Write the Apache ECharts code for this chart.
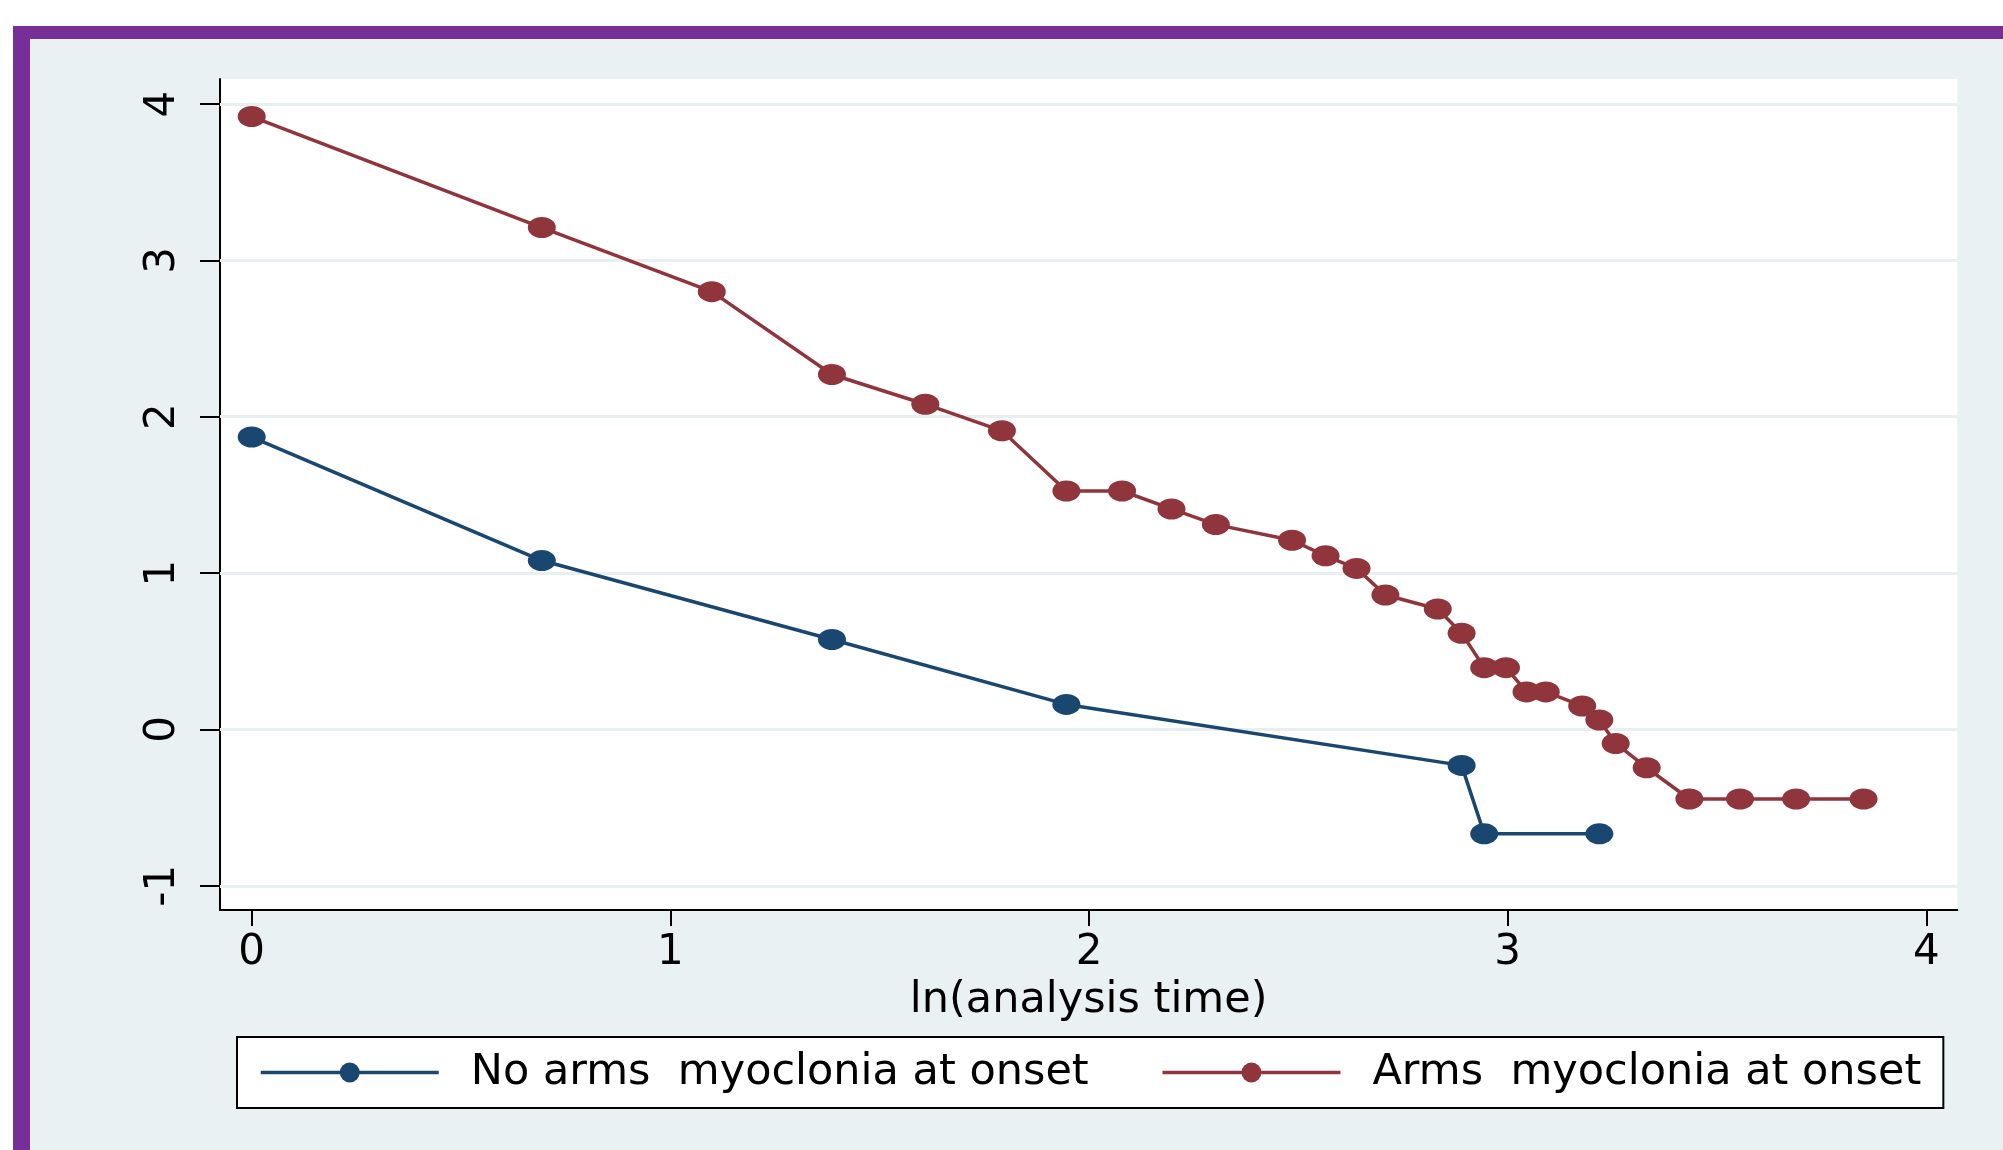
<!DOCTYPE html>
<html>
<head>
<meta charset="utf-8">
<script src="https://cdn.jsdelivr.net/npm/echarts@6/dist/echarts.min.js"></script>
<style>
  html, body { margin: 0; padding: 0; background: #ffffff; width: 2003px; height: 1150px; overflow: hidden; }
  #frame { position: absolute; left: 13px; top: 26px; width: 1990px; height: 1124px; background: #762F97; }
  #inner { position: absolute; left: 17px; top: 13px; right: 0; bottom: 0; background: #EAF1F3; }
  #chart { position: absolute; left: 0; top: 0; width: 2003px; height: 1150px; }
</style>
</head>
<body>
<div id="frame"><div id="inner"></div></div>
<div id="chart"></div>
<script>
// ---- data ----
const seriesNames = ['No arms  myoclonia at onset', 'Arms  myoclonia at onset'];

const noArmsX = [0, 0.693, 1.386, 1.946, 2.890, 2.944, 3.219];
const noArmsY = [1.87, 1.08, 0.575, 0.16, -0.23, -0.668, -0.668];

const armsX = [0, 0.693, 1.099, 1.386, 1.609, 1.792, 1.946, 2.079, 2.197, 2.303,
               2.485, 2.565, 2.639, 2.708, 2.833, 2.890, 2.944, 2.996, 3.045, 3.091,
               3.178, 3.219, 3.258, 3.332, 3.434, 3.555, 3.689, 3.850];
const armsY = [3.92, 3.21, 2.80, 2.27, 2.08, 1.91, 1.525, 1.525, 1.41, 1.31,
               1.21, 1.11, 1.03, 0.86, 0.77, 0.615, 0.395, 0.395, 0.24, 0.24,
               0.15, 0.06, -0.09, -0.245, -0.445, -0.445, -0.445, -0.445];

const xTicks = [0, 1, 2, 3, 4];
const yTicks = [-1, 0, 1, 2, 3, 4];
const xTitle = 'ln(analysis time)';

// ---- chart ----
const FONT = 'DejaVu Sans';
const navy = '#1A476F';
const maroon = '#90353B';
const ellipse = 'path://M0,10A13,10 0 1,0 26,10A13,10 0 1,0 0,10Z';

const zip = (xs, ys) => xs.map((x, i) => [x, ys[i]]);

const chart = echarts.init(document.getElementById('chart'), null, { renderer: 'canvas' });
chart.setOption({
  backgroundColor: 'transparent',
  animation: false,
  grid: {
    left: 220, top: 79, right: 45.7, bottom: 240,
    show: true, backgroundColor: '#ffffff', borderWidth: 0,
    containLabel: false
  },
  xAxis: {
    type: 'value',
    min: -0.0757, max: 4.074,
    name: xTitle,
    nameLocation: 'middle',
    nameGap: 56,
    nameTextStyle: { fontFamily: FONT, fontSize: 43, color: '#000' },
    axisLine: { show: true, onZero: false, lineStyle: { color: '#000', width: 2 } },
    axisTick: { show: true, customValues: xTicks, length: 16, lineStyle: { color: '#000', width: 2 } },
    axisLabel: { customValues: xTicks, fontFamily: FONT, fontSize: 42, color: '#000', margin: 22 },
    splitLine: { show: false }
  },
  yAxis: {
    type: 'value',
    min: -1.155, max: 4.160,
    axisLine: { show: true, onZero: false, lineStyle: { color: '#000', width: 2 } },
    axisTick: { show: true, customValues: yTicks, length: 20, lineStyle: { color: '#000', width: 2 } },
    axisLabel: { customValues: yTicks, rotate: 90, fontFamily: FONT, fontSize: 42, color: '#000', margin: 36 },
    splitLine: { show: false }
  },
  legend: {
    data: seriesNames,
    left: 237, top: 1037,
    orient: 'horizontal',
    padding: [14, 22, 14, 22],
    itemWidth: 178,
    itemHeight: 25,
    itemGap: 72,
    backgroundColor: '#ffffff',
    borderColor: '#000',
    borderWidth: 2,
    borderRadius: 0,
    selectedMode: false,
    lineStyle: { width: 3.5 },
    textStyle: { fontFamily: FONT, fontSize: 43, color: '#000', padding: [0, 0, 0, 27] }
  },
  series: [
    {
      name: 'grid',
      type: 'line',
      data: [],
      zlevel: 0,
      z: 1,
      silent: true,
      markLine: {
        silent: true,
        symbol: ['none', 'none'],
        label: { show: false },
        lineStyle: { color: '#E7EFF1', width: 3, type: 'solid' },
        data: yTicks.map(v => ({ yAxis: v }))
      }
    },
    {
      name: seriesNames[0],
      type: 'line',
      zlevel: 1,
      z: 3,
      data: zip(noArmsX, noArmsY),
      symbol: ellipse,
      symbolSize: [28, 21],
      showAllSymbol: true,
      lineStyle: { color: navy, width: 3.5 },
      itemStyle: { color: navy }
    },
    {
      name: seriesNames[1],
      type: 'line',
      zlevel: 1,
      z: 3,
      data: zip(armsX, armsY),
      symbol: ellipse,
      symbolSize: [28, 21],
      showAllSymbol: true,
      lineStyle: { color: maroon, width: 3.5 },
      itemStyle: { color: maroon }
    }
  ]
});
</script>
</body>
</html>
